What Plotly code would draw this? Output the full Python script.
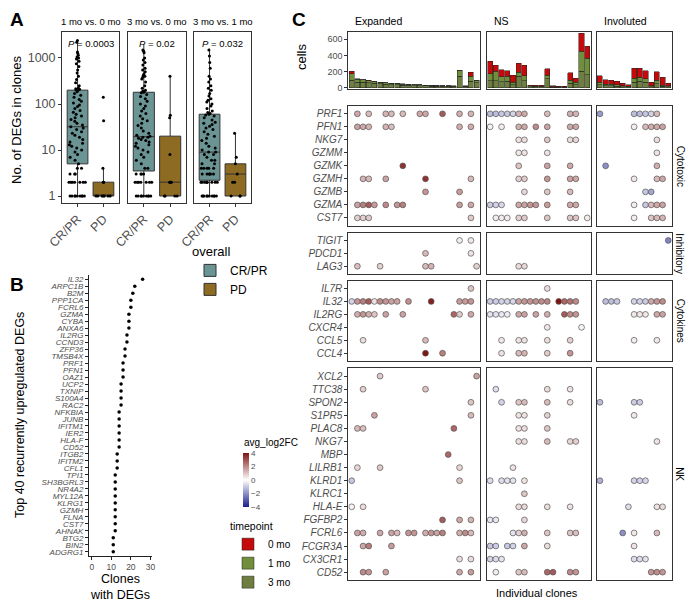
import plotly.graph_objects as go

W, H = 700, 610
FONT = "Liberation Sans, Arial, sans-serif"
INK = "#333333"
TXT = "#4D4D4D"

# ======================= DATA =======================
# ---- Panel A
COMPARISONS = ["1 mo vs. 0 mo", "3 mo vs. 0 mo", "3 mo vs. 1 mo"]
P_VALUES = ["0.0003", "0.02", "0.032"]
RESPONSE = ["CR/PR", "PD"]
# box statistics: q1, median, q3, lower whisker, upper whisker
CRPR_STATS = [[5, 32, 200, 1, 2400], [3.5, 19.5, 180, 1, 2000], [2.2, 9, 60, 1, 1600]]
PD_STATS = [[1, 1, 2, 1, 4], [1, 2, 20, 1, 400], [1, 3, 5, 1, 23]]
CRPR_POINTS_1 = [1, 1, 1, 1, 1, 1, 1, 1, 1, 2, 2, 2, 2, 2, 2, 2, 3, 3, 3, 4, 4, 5,
                 6, 7, 8, 9, 10, 11, 12, 13, 14, 15, 17, 19, 21, 23, 25, 28, 30,
                 32, 35, 38, 42, 46, 50, 55, 60, 66, 72, 80, 88, 95, 105, 115, 125, 140, 155, 170, 185, 200,
                 205, 210, 215, 220, 250, 290, 340, 400, 470, 550, 650, 750, 850, 950, 1000, 1050,
                 1150, 1250, 1350, 2200, 2400]
CRPR_POINTS_2 = [1, 1, 1, 1, 1, 1, 1, 1, 1, 2, 2, 2, 2, 2, 2, 2, 3, 3, 3, 3,
                 4, 4, 5, 6, 7, 8, 9, 10, 11, 12, 13, 14, 15, 16, 17, 18, 19, 19, 20,
                 21, 23, 26, 30, 34, 38, 43, 48, 55, 62, 70, 80, 90, 100, 115, 130, 145, 160, 175, 180,
                 185, 190, 200, 220, 250, 300, 350, 380, 400, 420, 450, 500, 550, 600, 700, 800, 900,
                 1000, 1300, 1400, 1500]
CRPR_POINTS_3 = [1, 1, 1, 1, 1, 1, 1, 1, 1, 1, 2, 2, 2, 2, 2, 2, 2, 2, 2, 3, 3, 3, 3, 3, 3,
                 4, 4, 4, 4, 4, 5, 5, 6, 6, 7, 8, 8, 9, 9, 10,
                 11, 12, 14, 16, 18, 20, 22, 25, 28, 30, 33, 36, 38, 40, 45, 50, 55, 58, 60, 62,
                 65, 70, 80, 90, 100, 110, 120, 130, 150, 170, 200, 220, 250, 300, 350, 400, 600,
                 800, 1100, 1500]
PD_POINTS_1 = [1, 1, 1, 1, 1, 1, 1, 2, 2, 4, 43, 140]
PD_POINTS_2 = [1, 1, 1, 1, 2, 2, 2, 2, 8, 50, 57, 400]
PD_POINTS_3 = [1, 1, 1, 2, 2, 3, 5, 7, 23]
CRPR_POINTS = [CRPR_POINTS_1, CRPR_POINTS_2, CRPR_POINTS_3]
PD_POINTS = [PD_POINTS_1, PD_POINTS_2, PD_POINTS_3]

# ---- Panel B
B_GENES = ["IL32", "ARPC1B", "B2M", "PPP1CA", "FCRL6", "GZMA", "CYBA", "ANXA6", "IL2RG", "CCND3",
           "ZFP36", "TMSB4X", "PRF1", "PFN1", "OAZ1", "UCP2", "TXNIP", "S100A4", "RAC2", "NFKBIA",
           "JUNB", "IFITM1", "IER2", "HLA-F", "CD52", "ITGB2", "IFITM2", "CFL1", "TPI1", "SH3BGRL3",
           "NR4A2", "MYL12A", "KLRG1", "GZMH", "FLNA", "CST7", "AHNAK", "BTG2", "BIN2", "ADGRG1"]
B_CLONES = [26, 22, 21, 20, 20, 19, 19, 19, 18, 18,
            17, 17, 16, 16, 16, 15, 15, 15, 15, 14,
            14, 14, 14, 14, 14, 13, 13, 13, 12, 12,
            12, 12, 12, 12, 12, 12, 12, 11, 11, 11]

# ---- Panel C
CLONE_GROUPS = ["Expanded", "NS", "Involuted"]
CLONE_PREFIX = ["E", "N", "I"]
N_CLONES = [23, 18, 13]
TIMEPOINTS = ["0 mo", "1 mo", "3 mo"]
TP_COLORS = {"0 mo": "#C40A0A", "1 mo": "#6F8F3A", "3 mo": "#6E7D40"}
CELLS_EXPANDED = {
    "0 mo": [30, 5, 4, 3, 2, 2, 2, 1, 1, 1, 1, 1, 1, 1, 1, 1, 1, 1, 1, 0, 1, 50, 5],
    "1 mo": [80, 35, 30, 28, 25, 22, 20, 18, 17, 15, 12, 11, 11, 10, 9, 9, 8, 8, 6, 80, 6, 60, 30],
    "3 mo": [93, 68, 66, 60, 52, 46, 40, 39, 36, 30, 28, 25, 25, 22, 19, 19, 16, 16, 14, 139, 14, 80, 60],
}
CELLS_NS = {
    "0 mo": [153, 75, 91, 70, 91, 112, 128, 10, 9, 9, 83, 7, 5, 5, 91, 50, 224, 145],
    "1 mo": [87, 116, 62, 62, 29, 50, 62, 10, 9, 9, 41, 6, 5, 5, 37, 33, 248, 207],
    "3 mo": [87, 87, 71, 79, 37, 140, 87, 13, 11, 11, 112, 8, 7, 7, 58, 37, 203, 161],
}
CELLS_INVOLUTED = {
    "0 mo": [83, 54, 50, 45, 30, 20, 120, 112, 99, 40, 108, 99, 33],
    "1 mo": [30, 20, 18, 15, 11, 8, 50, 50, 45, 12, 40, 14, 12],
    "3 mo": [36, 25, 23, 19, 13, 9, 70, 78, 67, 14, 51, 15, 13],
}
CELLS = [CELLS_EXPANDED, CELLS_NS, CELLS_INVOLUTED]

GENE_SETS = ["Cytotoxic", "Inhibitory", "Cytokines", "NK"]
GENES = {
    "Cytotoxic": ["PRF1", "PFN1", "NKG7", "GZMM", "GZMK", "GZMH", "GZMB", "GZMA", "CST7"],
    "Inhibitory": ["TIGIT", "PDCD1", "LAG3"],
    "Cytokines": ["IL7R", "IL32", "IL2RG", "CXCR4", "CCL5", "CCL4"],
    "NK": ["XCL2", "TTC38", "SPON2", "S1PR5", "PLAC8", "NKG7", "MBP", "LILRB1", "KLRD1", "KLRC1",
           "HLA-E", "FGFBP2", "FCRL6", "FCGR3A", "CX3CR1", "CD52"],
}
# avg_log2FC per gene set / gene : {clone index (0-based within group): value}
DOTS_EXPANDED = {
    "Cytotoxic": {
        "PRF1": {1: 1.5, 3: 1.2, 6: 1.3, 7: 1.2, 9: 1.2, 12: 1.5, 13: 1.5, 16: 2.8, 19: 1.4, 21: 1.3},
        "PFN1": {1: 1.6, 2: 1.5, 3: 1.3, 6: 1.3, 7: 1.1, 19: 1.4, 21: 1.4},
        "GZMK": {9: 3.5},
        "GZMH": {2: 1.3, 3: 1.2, 6: 1.6, 13: 3.5, 21: 1.2},
        "GZMB": {13: 1.8, 19: 1.7},
        "GZMA": {1: 1.6, 2: 2.2, 3: 2.8, 4: 1.7, 6: 2.0, 8: 1.8, 9: 2.2, 19: 1.7, 21: 1.5},
        "CST7": {1: 0.8, 2: 0.8, 3: 0.9, 21: 0.9},
    },
    "Inhibitory": {
        "TIGIT": {19: 0.3, 21: 0.4},
        "PDCD1": {13: 1.2, 21: 0.5},
        "LAG3": {1: 1.1, 5: 0.8, 13: 1.2, 14: 1.3, 22: 0.8},
    },
    "Cytokines": {
        "IL7R": {21: 1.0},
        "IL32": {0: -0.8, 1: 1.8, 2: 2.2, 3: 2.8, 4: 0.5, 5: 2.0, 6: 1.8, 7: 1.6, 8: 1.6, 10: 1.9,
                 14: 3.8, 19: 1.7, 20: 1.7, 21: 1.8},
        "IL2RG": {1: 1.4, 2: 1.8, 3: 1.4, 4: 1.0, 6: 1.6, 9: 1.6, 18: 2.6, 19: 0.9, 21: 1.5},
        "CCL5": {2: 0.6, 13: 1.2},
        "CCL4": {13: 4.0, 16: 2.2},
    },
    "NK": {
        "XCL2": {5: 0.9, 22: 1.6},
        "TTC38": {2: 0.8, 13: 1.0},
        "SPON2": {21: 1.0},
        "S1PR5": {4: 1.6, 21: 1.2},
        "PLAC8": {1: 1.2, 2: 1.1, 18: 2.6},
        "MBP": {17: 2.6},
        "LILRB1": {1: 0.7, 5: 0.9, 19: 0.7},
        "KLRD1": {0: -1.0, 19: 1.0},
        "HLA-E": {0: 0.2, 2: 0.6},
        "FGFBP2": {16: 2.8, 19: 1.5, 21: 1.3},
        "FCRL6": {1: 1.6, 2: 1.4, 5: 1.5, 7: 1.6, 8: 1.2, 10: 1.8, 11: 1.8, 13: 1.4, 14: 1.8, 15: 1.6,
                  16: 2.2, 19: 1.4, 20: 2.0, 21: 1.2},
        "FCGR3A": {2: 1.5, 3: 2.2, 7: 1.7},
        "CX3CR1": {19: 0.6, 21: 0.6},
        "CD52": {2: 2.0, 3: 1.8, 6: 1.6, 19: 1.5, 21: 1.7},
    },
}
DOTS_NS = {
    "Cytotoxic": {
        "PRF1": {0: -1.2, 1: -1.2, 2: -1.0, 3: -1.0, 4: -0.8, 5: 1.3, 6: 1.5, 10: 1.2, 14: 1.4, 15: 1.3},
        "PFN1": {0: 0.2, 2: 0.3, 5: 1.4, 6: 1.5, 8: 2.0, 10: 1.6, 14: 1.5, 15: 1.5},
        "NKG7": {5: 0.5, 6: 0.6, 10: 1.0, 14: 0.6, 15: 0.7},
        "GZMM": {5: 0.4, 6: 0.5, 10: 0.5},
        "GZMK": {5: 1.0, 10: 1.6, 14: 1.5},
        "GZMH": {5: 0.8, 6: 0.9, 10: 1.8, 14: 1.6, 15: 1.5},
        "GZMB": {6: 0.7, 10: 1.0, 14: 1.2},
        "GZMA": {0: -0.9, 1: -0.8, 2: -0.7, 5: 1.5, 6: 1.6, 7: 1.8, 8: 1.8, 10: 1.7, 14: 1.5, 15: 1.5},
        "CST7": {1: 0.3, 2: 0.3, 3: 0.3, 5: 0.8, 6: 0.9, 10: 1.0, 14: 1.0, 15: 1.0, 17: 0.3},
    },
    "Inhibitory": {
        "LAG3": {5: 0.6, 6: 0.7},
    },
    "Cytokines": {
        "IL7R": {10: 0.6},
        "IL32": {0: -0.9, 1: -0.9, 2: -0.8, 3: -0.8, 4: -0.7, 5: 1.6, 6: 1.8, 7: 1.8, 8: 1.9, 9: 2.0,
                 10: 2.1, 12: 4.0, 13: 2.6, 14: 2.4, 15: 2.0},
        "IL2RG": {0: -0.5, 1: -0.5, 2: -0.4, 3: -0.3, 5: 1.5, 6: 1.6, 8: 1.6, 10: 1.4, 13: 2.8, 14: 2.0, 15: 1.8},
        "CXCR4": {10: 0.4, 16: 0.2},
        "CCL5": {2: 0.4, 5: 0.5, 6: 0.5, 10: 0.6, 14: 0.8},
        "CCL4": {2: 0.5, 5: 1.2, 6: 1.3, 10: 0.9, 14: 1.8},
    },
    "NK": {
        "TTC38": {1: -0.6, 10: 0.6, 14: 0.5},
        "SPON2": {2: -0.8, 5: 1.0, 6: 1.2, 10: 1.2, 14: 0.6},
        "S1PR5": {5: 0.5, 6: 0.5, 10: 0.8},
        "PLAC8": {5: 0.5, 6: 0.6, 10: 1.0},
        "NKG7": {5: 0.6, 6: 0.6, 10: 1.2, 14: 0.7, 15: 0.8},
        "LILRB1": {4: 0.5},
        "KLRD1": {0: -0.6, 2: -0.6, 3: -0.5, 4: -0.5, 6: 0.5},
        "KLRC1": {6: 1.0},
        "HLA-E": {5: 0.6, 6: 0.7, 10: 0.6, 14: 0.5},
        "FGFBP2": {0: -0.5, 1: -0.4, 6: 0.7},
        "FCRL6": {4: -0.5, 5: 0.8, 6: 1.4, 10: 1.0, 14: 1.0, 15: 1.1},
        "FCGR3A": {0: -1.0, 1: -0.9, 3: -1.0, 4: -0.8, 6: 1.5, 10: 0.6},
        "CX3CR1": {0: -0.8, 1: -0.6, 2: -0.5},
        "CD52": {1: 0.3, 5: 1.0, 6: 1.2, 10: 2.6, 11: 2.8, 14: 2.0, 15: 1.8},
    },
}
DOTS_INVOLUTED = {
    "Cytotoxic": {
        "PRF1": {0: -1.8, 6: -1.2, 7: -1.2, 8: -1.0, 9: -0.8, 10: 1.2},
        "PFN1": {6: 0.3, 8: 1.2, 9: 1.4, 10: 1.5, 11: 1.6},
        "NKG7": {10: 0.6},
        "GZMM": {10: 0.5},
        "GZMK": {1: -2.0, 10: 1.4},
        "GZMH": {6: 0.4, 10: 1.2, 11: 1.5},
        "GZMB": {8: -1.0, 9: -1.6},
        "GZMA": {6: 0.3, 8: -1.0, 9: 1.2, 10: 1.5, 11: 1.6},
        "CST7": {6: 0.3, 9: 1.0, 10: 1.2, 11: 1.3},
    },
    "Inhibitory": {
        "TIGIT": {12: -2.2},
    },
    "Cytokines": {
        "IL32": {1: -1.2, 2: -1.2, 3: -1.0, 6: -0.8, 7: -0.8, 8: -0.9, 9: 1.5, 10: 1.8, 11: 2.0},
        "IL2RG": {6: 0.4, 7: 0.4, 8: 0.4, 10: 1.5, 11: 1.6},
        "CCL5": {6: 0.3, 10: 0.4},
    },
    "NK": {
        "SPON2": {0: -1.2, 6: -0.9, 7: -0.9},
        "S1PR5": {6: 0.4},
        "NKG7": {10: 0.5},
        "KLRD1": {0: -1.4, 6: -0.8, 7: -0.8, 8: -0.7},
        "HLA-E": {5: -0.6, 10: 0.5, 11: 0.6},
        "FCRL6": {4: -2.0, 6: 0.4, 10: 1.2},
        "FCGR3A": {6: 0.5},
        "CX3CR1": {6: -0.6, 7: -0.6, 8: -0.5},
        "CD52": {9: 1.8, 10: 2.0, 11: 1.8},
    },
}
DOTS = [DOTS_EXPANDED, DOTS_NS, DOTS_INVOLUTED]

# ======================= LAYOUT GEOMETRY (pixels) =======================
A_X = [(62, 119), (128, 186), (194, 251)]
A_Y = (32, 203)
B_X, B_Y = (89, 152), (275, 556)
C_X = [(348.3, 480), (486.7, 590.7), (596.5, 671.7)]
C_BAR_Y = (31.7, 89.3)
C_ROW_Y = [(106, 225.7), (232.7, 274), (280.7, 361), (368.3, 580)]

fig = go.Figure()
axes = {}


def names(i):
    return ("x" if i == 1 else f"x{i}", "y" if i == 1 else f"y{i}")


def set_axes(i, xpx, ypx, xopt, yopt):
    xn, yn = names(i)
    axes["xaxis" if i == 1 else f"xaxis{i}"] = dict(domain=[xpx[0] / W, xpx[1] / W], anchor=yn,
                                                    automargin=False, **xopt)
    axes["yaxis" if i == 1 else f"yaxis{i}"] = dict(domain=[1 - ypx[1] / H, 1 - ypx[0] / H], anchor=xn,
                                                    automargin=False, **yopt)


def frame(**kw):
    d = dict(showline=True, linecolor=INK, linewidth=1, mirror=True, showgrid=False, zeroline=False,
             ticks="", showticklabels=False, fixedrange=True)
    d.update(kw)
    return d


# ---------- Panel A
BOX_COLORS = {"CR/PR": "#6B9494", "PD": "#8E6B22"}
for f in range(3):
    i = f + 1
    xn, yn = names(i)
    set_axes(i, A_X[f], A_Y,
             frame(type="category", categoryorder="array", categoryarray=RESPONSE, range=[-0.6, 1.6],
                   ticks="outside", ticklen=3, tickcolor=INK, showticklabels=True, tickangle=-45,
                   tickfont=dict(size=12.5, color=TXT)),
             frame(type="log", range=[-0.152, 3.565], tickvals=[1, 10, 100, 1000],
                   ticktext=["1", "10", "100", "1000"], ticks="outside" if f == 0 else "",
                   ticklen=3, tickcolor=INK, showticklabels=(f == 0),
                   tickfont=dict(size=12.5, color=TXT)))
    for g, stats in (("CR/PR", CRPR_STATS[f]), ("PD", PD_STATS[f])):
        fig.add_trace(go.Box(x=[g], q1=[stats[0]], median=[stats[1]], q3=[stats[2]],
                             lowerfence=[stats[3]], upperfence=[stats[4]], boxpoints=False,
                             fillcolor=BOX_COLORS[g], line=dict(color=INK, width=1), whiskerwidth=0,
                             width=0.8, name=g, legend="legend", legendgroup=g, showlegend=(f == 0),
                             xaxis=xn, yaxis=yn, hoverinfo="skip"))
    for g, pts in (("CR/PR", CRPR_POINTS[f]), ("PD", PD_POINTS[f])):
        fig.add_trace(go.Box(x=[g] * len(pts), y=pts, boxpoints="all", jitter=0.85, pointpos=0,
                             width=0.8, fillcolor="rgba(0,0,0,0)",
                             line=dict(color="rgba(0,0,0,0)", width=0),
                             marker=dict(color="black", size=3), showlegend=False,
                             xaxis=xn, yaxis=yn, hoverinfo="skip"))

# ---------- Panel B
set_axes(4, B_X, B_Y,
         dict(range=[-1.4, 30.8], tickvals=[0, 10, 20, 30], ticks="outside", ticklen=3, tickcolor="#222",
              showline=True, linecolor="#222", linewidth=1, showgrid=False, zeroline=False,
              tickfont=dict(size=8.5, color=TXT), fixedrange=True),
         dict(type="category", categoryorder="array", categoryarray=B_GENES, range=[39.6, -0.6],
              tickmode="linear", tick0=0, dtick=1,
              ticks="outside", ticklen=3, tickcolor="#222", showline=True, linecolor="#222", linewidth=1,
              showgrid=False, zeroline=False, tickfont=dict(size=8, color=TXT, style="italic"),
              fixedrange=True))
fig.add_trace(go.Scatter(x=B_CLONES, y=B_GENES, mode="markers", marker=dict(color="black", size=3.5),
                         showlegend=False, xaxis="x4", yaxis="y4", hoverinfo="skip"))

# ---------- Panel C : bars
clone_ids = [[f"{CLONE_PREFIX[c]}{k + 1}" for k in range(N_CLONES[c])] for c in range(3)]
RANK = {"0 mo": 1, "1 mo": 2, "3 mo": 3}
for c in range(3):
    i = 5 + c
    xn, yn = names(i)
    set_axes(i, C_X[c], C_BAR_Y,
             frame(type="category", categoryorder="array", categoryarray=clone_ids[c],
                   range=[-0.6, N_CLONES[c] - 0.4]),
             frame(range=[-20, 694], tickvals=[0, 200, 400, 600], ticks="outside" if c == 0 else "",
                   ticklen=3, tickcolor=INK, showticklabels=(c == 0), tickfont=dict(size=9, color=TXT)))
    for tp in ["3 mo", "1 mo", "0 mo"]:
        fig.add_trace(go.Bar(x=clone_ids[c], y=CELLS[c][tp], width=0.9, name=tp,
                             marker=dict(color=TP_COLORS[tp], line=dict(color="#222222", width=0.5)),
                             legend="legend2", legendrank=RANK[tp], showlegend=(c == 0),
                             xaxis=xn, yaxis=yn, hoverinfo="skip"))

# ---------- Panel C : dot matrix
for r, gs in enumerate(GENE_SETS):
    genes = GENES[gs]
    for c in range(3):
        i = 8 + r * 3 + c
        xn, yn = names(i)
        set_axes(i, C_X[c], C_ROW_Y[r],
                 frame(type="category", categoryorder="array", categoryarray=clone_ids[c],
                       range=[-0.6, N_CLONES[c] - 0.4]),
                 frame(type="category", categoryorder="array", categoryarray=genes,
                       range=[len(genes) - 0.4, -0.6], tickmode="linear", tick0=0, dtick=1,
                       ticks="outside" if c == 0 else "",
                       ticklen=3, tickcolor=INK, showticklabels=(c == 0),
                       tickfont=dict(size=10, color=TXT, style="italic")))
        # invisible skeleton so that every clone / gene keeps its slot
        fig.add_trace(go.Scatter(x=clone_ids[c] + [clone_ids[c][0]] * len(genes),
                                 y=[genes[0]] * len(clone_ids[c]) + genes, mode="markers",
                                 marker=dict(opacity=0, size=1), showlegend=False,
                                 xaxis=xn, yaxis=yn, hoverinfo="skip"))
        xs, ys, vs = [], [], []
        for gene, cells in DOTS[c].get(gs, {}).items():
            for k, v in cells.items():
                xs.append(clone_ids[c][k])
                ys.append(gene)
                vs.append(v)
        if xs:
            fig.add_trace(go.Scatter(x=xs, y=ys, mode="markers",
                                     marker=dict(color=vs, coloraxis="coloraxis", size=5.8,
                                                 line=dict(color="#555555", width=0.7)),
                                     showlegend=False, xaxis=xn, yaxis=yn, hoverinfo="skip"))

# ======================= ANNOTATIONS =======================
ann = []


def text(x, y, s, size, **kw):
    d = dict(x=x / W, y=1 - y / H, xref="paper", yref="paper", text=s, showarrow=False,
             xanchor="center", yanchor="middle",
             font=dict(size=size, color=kw.pop("color", "black"), family=FONT))
    d.update(kw)
    ann.append(d)


text(17, 19, "<b>A</b>", 19)
text(17, 284, "<b>B</b>", 19)
text(299, 19, "<b>C</b>", 19)
for f in range(3):
    cx = (A_X[f][0] + A_X[f][1]) / 2
    text(cx, 21, COMPARISONS[f], 9.5)
    text(cx, 44, f"<i>P</i> = {P_VALUES[f]}", 9.5)
text(16, 120, "No. of DEGs in clones", 13, textangle=-90)
text(20, 415, "Top 40 recurrently upregulated DEGs", 12.5, textangle=-90)
text(120, 587, "Clones<br>with DEGs", 12.5)
for c in range(3):
    text(C_X[c][0] + 5, 21, CLONE_GROUPS[c], 10.5, xanchor="left")
text(302, 57, "cells", 13, textangle=-90)
for r, gs in enumerate(GENE_SETS):
    text(680, (C_ROW_Y[r][0] + C_ROW_Y[r][1]) / 2, gs, 10, textangle=90)
text(537, 593, "Individual clones", 11)
text(242, 442, "avg_log2FC", 10, xanchor="left")

fig.update_layout(
    width=W, height=H, margin=dict(l=0, r=0, t=0, b=0, pad=0, autoexpand=False),
    paper_bgcolor="white", plot_bgcolor="white",
    font=dict(family=FONT, color="black"),
    barmode="stack", boxmode="overlay",
    annotations=ann,
    coloraxis=dict(cmin=-4, cmax=4,
                   colorscale=[[0, "#1E1E8F"], [0.5, "#FFFFFF"], [1, "#7F1414"]],
                   colorbar=dict(x=242.5 / W, xanchor="left", xpad=0, ypad=0,
                                 y=1 - 480 / H, yanchor="middle",
                                 len=54, lenmode="pixels", thickness=6, thicknessmode="pixels",
                                 tickvals=[-4, -2, 0, 2, 4], ticks="", outlinewidth=0,
                                 tickfont=dict(size=8, color=TXT))),
    legend=dict(x=190 / W, y=1 - 239 / H, xanchor="left", yanchor="top", itemwidth=30,
                title=dict(text="overall", font=dict(size=13)), font=dict(size=12),
                bgcolor="rgba(0,0,0,0)", tracegroupgap=0),
    legend2=dict(x=228 / W, y=1 - 516 / H, xanchor="left", yanchor="top", itemwidth=30,
                 title=dict(text="timepoint", font=dict(size=10.5)), font=dict(size=10),
                 bgcolor="rgba(0,0,0,0)", traceorder="normal"),
    **axes,
)

fig.write_html("out.html", config={"displayModeBar": False, "staticPlot": True},
               post_script="document.body.style.margin='0';")
